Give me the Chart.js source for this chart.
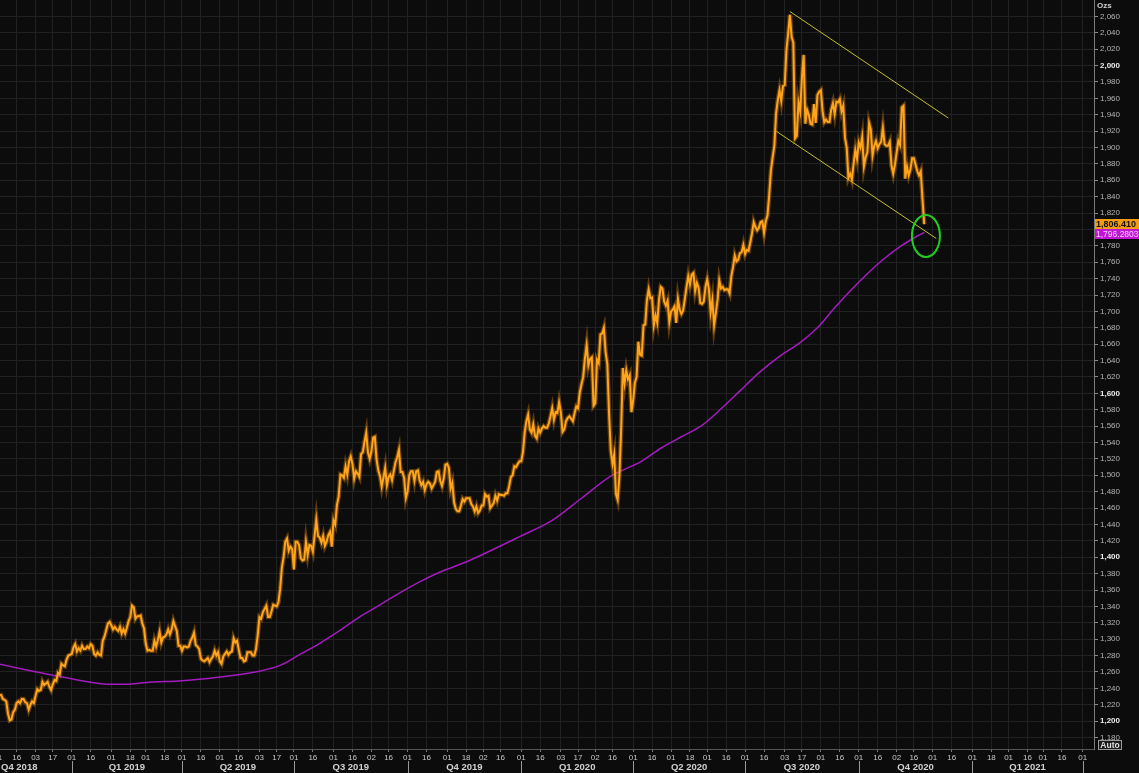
<!DOCTYPE html>
<html><head><meta charset="utf-8">
<script src="https://cdn.jsdelivr.net/npm/chart.js@4.4.1/dist/chart.umd.min.js"></script>
<style>html,body{margin:0;padding:0;background:#0c0c0c;overflow:hidden}canvas{display:block}</style>
</head><body>
<canvas id="c" width="1139" height="773"></canvas>
<script>
// ---------- DATA ----------
const startDate = '2018-11-01'; // first weekday of the close series (one value per weekday)
const closes = [
  1233, 1232,                         // Nov 1-2 2018
  1232, 1227, 1226, 1224, 1209,       // Nov 5
  1201, 1202, 1211, 1214, 1222,       // Nov 12
  1224, 1222, 1227, 1227, 1223,       // Nov 19
  1222, 1214, 1220, 1224, 1222,       // Nov 26
  1231, 1239, 1237, 1238, 1248,       // Dec 3
  1244, 1246, 1248, 1242, 1238,       // Dec 10
  1245, 1250, 1249, 1259, 1257,       // Dec 17
  1270, 1268, 1267, 1275, 1280,       // Dec 24
  1281, 1282, 1290, 1294, 1285,       // Dec 31
  1289, 1286, 1292, 1288, 1288,       // Jan 7 2019
  1291, 1289, 1294, 1292, 1282,
  1280, 1284, 1281, 1280, 1298,
  1303, 1311, 1319, 1321, 1317,
  1312, 1315, 1312, 1310, 1315,       // Feb 4
  1307, 1312, 1307, 1314, 1322,
  1327, 1341, 1339, 1325, 1328,
  1328, 1329, 1319, 1313, 1294,
  1286, 1287, 1286, 1286, 1298,       // Mar 4
  1291, 1299, 1309, 1296, 1302,
  1303, 1306, 1312, 1306, 1312,
  1322, 1316, 1310, 1292, 1292,
  1286, 1291, 1291, 1290, 1291,       // Apr 1
  1298, 1302, 1308, 1293, 1291,
  1288, 1276, 1274, 1273, 1275,
  1277, 1272, 1276, 1279, 1286,
  1280, 1284, 1273, 1270, 1279,       // Apr 29
  1282, 1285, 1281, 1284, 1285,
  1301, 1296, 1298, 1287, 1277,
  1277, 1273, 1274, 1284, 1284,
  1284, 1280, 1280, 1288, 1305,       // May 27
  1327, 1325, 1333, 1337, 1341,       // Jun 3
  1327, 1327, 1334, 1342, 1341,
  1340, 1345, 1361, 1387, 1400,
  1419, 1423, 1408, 1413, 1410,
  1385, 1419, 1419, 1415, 1399,       // Jul 1
  1396, 1397, 1419, 1403, 1415,
  1414, 1407, 1426, 1446, 1426,
  1424, 1418, 1426, 1414, 1419,
  1427, 1431, 1413, 1445, 1440,       // Jul 29
  1464, 1474, 1501, 1500, 1497,       // Aug 5
  1511, 1501, 1517, 1523, 1514,
  1496, 1505, 1502, 1498, 1526,
  1528, 1541, 1552, 1528, 1520,
  1529, 1546, 1547, 1519, 1506,       // Sep 2
  1499, 1486, 1497, 1509, 1488,
  1498, 1501, 1494, 1505, 1516,
  1522, 1531, 1504, 1504, 1497,
  1472, 1480, 1500, 1505, 1505,       // Sep 30
  1493, 1505, 1506, 1494, 1488,
  1492, 1482, 1489, 1492, 1490,
  1484, 1488, 1492, 1504, 1505,
  1493, 1487, 1496, 1513, 1514,       // Oct 28
  1509, 1484, 1491, 1467, 1459,       // Nov 4
  1456, 1456, 1463, 1471, 1468,
  1472, 1472, 1472, 1465, 1462,
  1456, 1462, 1454, 1457, 1463,
  1463, 1477, 1474, 1475, 1460,       // Dec 2
  1463, 1466, 1475, 1469, 1477,
  1476, 1476, 1475, 1478, 1478,
  1487, 1498, 1500, 1511, 1510,
  1514, 1517, 1517, 1528, 1552,       // Dec 30
  1566, 1574, 1556, 1552, 1562,       // Jan 6 2020
  1548, 1545, 1557, 1552, 1557,
  1560, 1558, 1558, 1563, 1572,
  1582, 1568, 1577, 1576, 1589,
  1577, 1553, 1556, 1566, 1570,       // Feb 3
  1572, 1569, 1566, 1576, 1584,
  1582, 1601, 1611, 1620, 1643,
  1659, 1634, 1642, 1644, 1585,
  1588, 1641, 1637, 1672, 1673,       // Mar 2
  1680, 1650, 1636, 1576, 1530,
  1514, 1526, 1477, 1470, 1498,
  1554, 1631, 1612, 1628, 1617,
  1622, 1577, 1591, 1613, 1620,       // Mar 30
  1663, 1647, 1646, 1683, 1684,
  1714, 1727, 1716, 1717, 1683,
  1695, 1686, 1714, 1730, 1728,
  1712, 1707, 1713, 1687, 1700,       // Apr 27
  1702, 1706, 1686, 1715, 1702,
  1697, 1701, 1715, 1730, 1743,
  1733, 1745, 1747, 1725, 1735,
  1729, 1710, 1709, 1712, 1730,       // May 25
  1739, 1727, 1699, 1714, 1683,       // Jun 1
  1698, 1714, 1738, 1728, 1730,
  1726, 1727, 1727, 1722, 1743,
  1754, 1768, 1761, 1763, 1771,
  1772, 1781, 1770, 1775, 1774,       // Jun 29
  1784, 1795, 1809, 1803, 1799,
  1802, 1809, 1810, 1796, 1810,
  1817, 1842, 1872, 1888, 1902,
  1942, 1958, 1970, 1957, 1975,       // Jul 27
  1976, 2019, 2039, 2062, 2035,       // Aug 3
  2028, 1911, 1914, 1955, 1944,
  1985, 2013, 1929, 1946, 1940,
  1929, 1928, 1953, 1930, 1964,
  1968, 1970, 1944, 1931, 1934,       // Aug 31
  1931, 1931, 1946, 1954, 1941,
  1956, 1955, 1959, 1944, 1951,
  1912, 1900, 1863, 1868, 1861,
  1880, 1897, 1886, 1906, 1900,       // Sep 28
  1913, 1877, 1888, 1894, 1930,
  1922, 1890, 1902, 1908, 1899,
  1904, 1907, 1924, 1904, 1902,
  1902, 1907, 1878, 1868, 1879,       // Oct 26
  1894, 1908, 1903, 1949, 1951,       // Nov 2
  1862, 1877, 1866, 1873, 1887,
  1887, 1879, 1871, 1866, 1871,
  1837, 1806.41                       // Nov 23-24
];

// 200-day moving average
const maDates = ['2018-11-01','2018-12-13','2019-01-23','2019-02-13','2019-03-05','2019-03-28','2019-04-15','2019-05-08',
  '2019-06-03','2019-06-19','2019-07-05','2019-07-22','2019-08-07','2019-08-22','2019-09-09','2019-09-24','2019-10-10',
  '2019-10-28','2019-11-20','2020-01-01','2020-01-27','2020-02-19','2020-03-13','2020-04-07','2020-04-23','2020-05-11',
  '2020-05-27','2020-06-12','2020-06-26','2020-07-13','2020-07-29','2020-08-14','2020-08-28','2020-09-10','2020-09-24',
  '2020-10-08','2020-10-21','2020-11-04','2020-11-18','2020-11-24'];
const maValues = [1270,1257,1246,1245,1247.5,1249,1251,1255,
  1261,1268,1282,1295,1311,1327,1342,1356,1370,
  1382,1396,1426,1445,1472,1499,1516,1533,1547,
  1561,1583,1603,1625,1645,1662,1680,1702,1725,
  1746,1763,1779,1792,1796.2803];

// channel lines and marker
const upperTrendDates = ['2020-08-06','2020-12-14'];
const upperTrendValues = [2066, 1936];
const lowerTrendDates = ['2020-07-27','2020-12-03'];
const lowerTrendValues = [1920, 1789];
const circleDate = '2020-11-25';
const circleValue = 1792;

const lastPrice = 1806.41;
const lastPriceLabel = '1,806.410';
const lastMA = 1796.2803;
const lastMALabel = '1,796.2803';

// axis ticks
const tickDates = ['2018-11-01','2018-11-16','2018-12-03','2018-12-17',
  '2019-01-01','2019-01-16','2019-02-01','2019-02-18','2019-03-01','2019-03-18','2019-04-01','2019-04-16','2019-05-01','2019-05-16',
  '2019-06-03','2019-06-17','2019-07-01','2019-07-16','2019-08-01','2019-08-16','2019-09-02','2019-09-16','2019-10-01','2019-10-16',
  '2019-11-01','2019-11-18','2019-12-02','2019-12-16',
  '2020-01-01','2020-01-16','2020-02-03','2020-02-17','2020-03-02','2020-03-16','2020-04-01','2020-04-16','2020-05-01','2020-05-18',
  '2020-06-01','2020-06-16','2020-07-01','2020-07-16','2020-08-03','2020-08-17','2020-09-01','2020-09-16','2020-10-01','2020-10-16',
  '2020-11-02','2020-11-16','2020-12-01','2020-12-16',
  '2021-01-01','2021-01-18','2021-02-01','2021-02-16','2021-03-01','2021-03-16','2021-04-01'];
const quarterStarts = ['2018-10-01','2019-01-01','2019-04-01','2019-07-01','2019-10-01','2020-01-01','2020-04-01','2020-07-01','2020-10-01','2021-01-01','2021-04-01'];
const quarterLabels = ['Q4 2018','Q1 2019','Q2 2019','Q3 2019','Q4 2019','Q1 2020','Q2 2020','Q3 2020','Q4 2020','Q1 2021'];
const yTickMin = 1180, yTickMax = 2060, yTickStep = 20;
const unitLabel = 'Ozs';

// ---------- HELPERS ----------
function wdIndex(s){
  const p = s.split('-').map(Number);
  const t = Date.UTC(p[0],p[1]-1,p[2]);
  const q = startDate.split('-').map(Number);
  const t0 = Date.UTC(q[0],q[1]-1,q[2]);
  const days = Math.round((t-t0)/86400000);
  let c = 0;
  if (days >= 0) { for (let i=0;i<days;i++){ const w=new Date(t0+i*86400000).getUTCDay(); if(w!==0&&w!==6) c++; } }
  else { for (let i=days;i<0;i++){ const w=new Date(t0+i*86400000).getUTCDay(); if(w!==0&&w!==6) c--; } }
  return c;
}
const FONT = "'Liberation Sans', Arial, sans-serif";
const priceData = closes.map((v,i)=>({x:i, y:v}));
const maData = maDates.map((d,i)=>({x:wdIndex(d), y:maValues[i]}));
const upperData = upperTrendDates.map((d,i)=>({x:wdIndex(d), y:upperTrendValues[i]}));
const lowerData = lowerTrendDates.map((d,i)=>({x:wdIndex(d), y:lowerTrendValues[i]}));
const tickIdx = tickDates.map(wdIndex);
const tickLabelMap = {};
tickDates.forEach((d,i)=>{ tickLabelMap[tickIdx[i]] = d.slice(8); });
// first (partly hidden) tick is moved to the end so the scale does not reserve left padding for it
const xTickOrder = tickIdx.slice(1).concat(tickIdx.slice(0,1));
const yTicks = [];
for (let v=yTickMin; v<=yTickMax; v+=yTickStep) yTicks.push(v);
const fmt = v => v.toLocaleString('en-US');

const X_MIN = 1.34, X_MAX = 636.6;

const bgPlugin = {
  id:'bg',
  beforeDraw(chart){
    const c = chart.ctx; c.save(); c.fillStyle='#0c0c0c'; c.fillRect(0,0,chart.width,chart.height); c.restore();
  }
};
const overlayPlugin = {
  id:'overlay',
  afterDraw(chart){
    const c = chart.ctx, xs = chart.scales.x, ys = chart.scales.y, ca = chart.chartArea;
    c.save();
    // green circle
    c.beginPath();
    c.ellipse(xs.getPixelForValue(wdIndex(circleDate)), ys.getPixelForValue(circleValue), 14, 21, 0, 0, Math.PI*2);
    c.strokeStyle = '#1fd11f'; c.lineWidth = 2; c.stroke();
    // quarter row
    c.font = 'bold 9.5px ' + FONT; c.fillStyle = '#d2d2d2'; c.textAlign='center'; c.textBaseline='middle';
    for (let i=0;i<quarterLabels.length;i++){
      const a = xs.getPixelForValue(wdIndex(quarterStarts[i]));
      const b = xs.getPixelForValue(wdIndex(quarterStarts[i+1]));
      const w = c.measureText(quarterLabels[i]).width;
      const cx = Math.max((a+b)/2, ca.left + w/2 + 1);
      c.fillText(quarterLabels[i], cx, 767);
    }
    c.strokeStyle = '#9a9a9a'; c.lineWidth = 1;
    for (let i=1;i<quarterStarts.length;i++){
      const x = Math.round(xs.getPixelForValue(wdIndex(quarterStarts[i])))+0.5;
      c.beginPath(); c.moveTo(x, 761); c.lineTo(x, 773); c.stroke();
    }
    // last value tags
    const yP = ys.getPixelForValue(lastPrice);
    const top1 = Math.round(yP - 5);
    c.fillStyle = '#f39c12'; c.fillRect(ca.right+1, top1, chart.width-ca.right-1, 10);
    c.fillStyle = '#111'; c.textAlign='left'; c.textBaseline='middle';
    c.font = 'bold 9px ' + FONT; c.fillText(lastPriceLabel, ca.right+2, top1+5.5);
    const top2 = top1 + 10;
    c.fillStyle = '#c214d6'; c.fillRect(ca.right+1, top2, chart.width-ca.right-1, 10);
    c.fillStyle = '#f4d2f7'; c.font = '8.5px ' + FONT; c.fillText(lastMALabel, ca.right+2, top2+5.5);
    // unit + Auto
    c.fillStyle = '#d0d0d0'; c.font = 'bold 8px ' + FONT; c.fillText(unitLabel, ca.right+3, 6);
    c.fillStyle = '#1a1a1a'; c.fillRect(ca.right+4.5, 740.5, 23, 9);
    c.strokeStyle = '#9a9a9a'; c.strokeRect(ca.right+4.5, 740.5, 23, 9);
    c.fillStyle = '#e0e0e0'; c.font = 'bold 8.5px ' + FONT; c.textAlign='center';
    c.fillText('Auto', ca.right+16, 745.5);
    c.restore();
  }
};

new Chart(document.getElementById('c'), {
  type:'line',
  data:{ datasets:[
    { data: priceData, borderColor:'#ffa41b', borderWidth:2, pointRadius:0, tension:0 },
    { data: priceData, borderColor:'rgba(214,128,10,0.42)', borderWidth:4.5, pointRadius:0, tension:0 },
    { data: upperData, borderColor:'#c2c02c', borderWidth:1, pointRadius:0 },
    { data: lowerData, borderColor:'#c2c02c', borderWidth:1, pointRadius:0 },
    { data: maData, borderColor:'#a21cc0', borderWidth:1.5, pointRadius:0, tension:0.3 }
  ]},
  options:{
    responsive:false, animation:false, devicePixelRatio:1,
    layout:{ padding:0, autoPadding:false },
    plugins:{ legend:{display:false}, tooltip:{enabled:false} },
    scales:{
      x:{
        type:'linear', min:X_MIN, max:X_MAX,
        afterBuildTicks: s => { s.ticks = xTickOrder.map(v=>({value:v})); },
        afterFit: s => { s.height = 24; s.paddingLeft = 0; s.paddingRight = 0; },
        grid:{ color:'#222222', tickLength:3, tickColor:'#7a7a7a' },
        border:{ color:'#555555' },
        ticks:{ autoSkip:false, maxRotation:0, minRotation:0, padding:1, color:'#c8c8c8',
          font:{ size:8, family:FONT }, callback: v => tickLabelMap[v] ?? '' }
      },
      y:{
        position:'right', min:1166, max:2080,
        afterBuildTicks: s => { s.ticks = yTicks.map(v=>({value:v})); },
        afterFit: s => { s.width = 45; s.paddingTop = 0; s.paddingBottom = 0; },
        grid:{ color:'#222222', tickLength:4, tickColor:'#8a8a8a' },
        border:{ color:'#7a7a7a' },
        ticks:{ padding:2, callback: v => fmt(v),
          color: ctx => (ctx.tick && ctx.tick.value % 200 === 0) ? '#ececec' : '#b4b4b4',
          font: ctx => ({ size:8, family:FONT, weight: (ctx.tick && ctx.tick.value % 200 === 0) ? 'bold' : 'normal' }) }
      }
    }
  },
  plugins:[bgPlugin, overlayPlugin]
});
</script>
</body></html>
